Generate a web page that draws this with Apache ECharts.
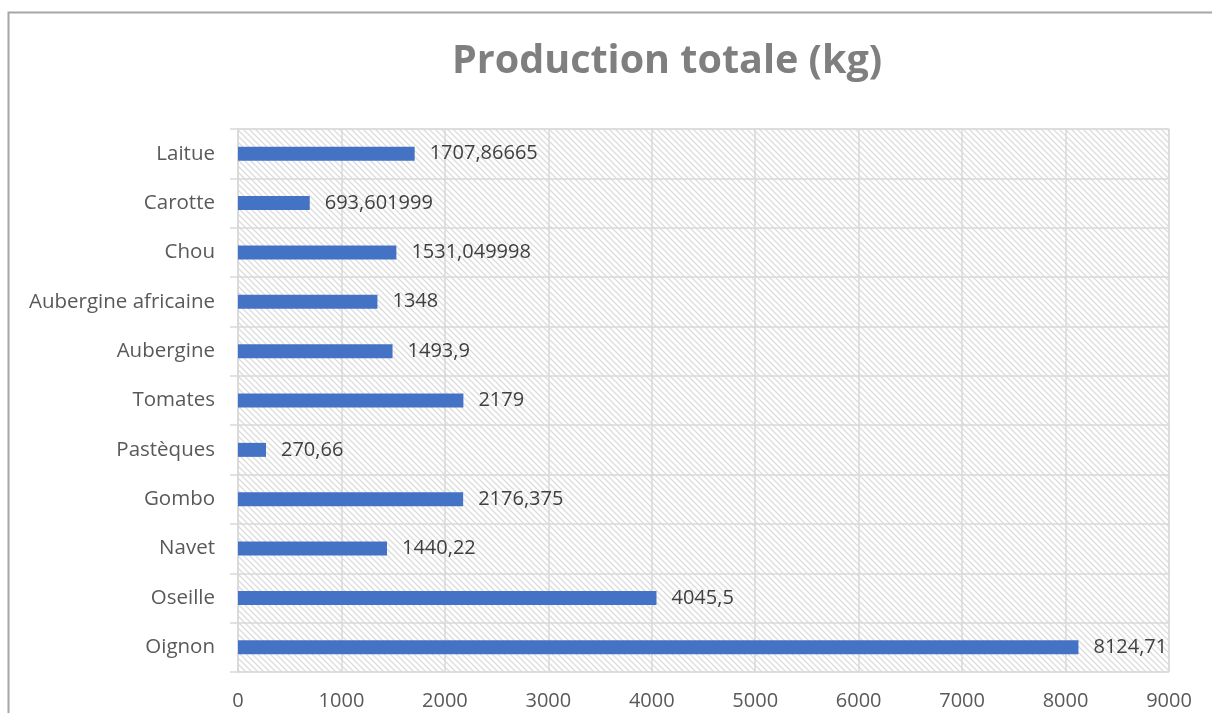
<!DOCTYPE html>
<html>
<head>
<meta charset="utf-8">
<script src="https://cdn.jsdelivr.net/npm/echarts@6/dist/echarts.min.js"></script>
<style>html,body{margin:0;padding:0;background:#fff}#c{width:1212px;height:713px}</style>
</head>
<body>
<div id="c"></div>
<script>
var categories = ['Oignon','Oseille','Navet','Gombo','Pastèques','Tomates','Aubergine','Aubergine africaine','Chou','Carotte','Laitue'];
var values = [8124.71, 4045.5, 1440.22, 2176.375, 270.66, 2179, 1493.9, 1348, 1531.049998, 693.601999, 1707.86665];
var xTicks = [0,1000,2000,3000,4000,5000,6000,7000,8000,9000];
var titleText = 'Production totale (kg)';

var FONT = 'Open Sans';
var TITLE_SIZE = 39.5;

// hatch pattern
var pc = document.createElement('canvas');
pc.width = 6; pc.height = 6;
var g = pc.getContext('2d');
g.fillStyle = '#ffffff'; g.fillRect(0,0,6,6);
g.strokeStyle = '#dcdcdc'; g.lineWidth = 1.3;
g.beginPath();
g.moveTo(-6,-6); g.lineTo(12,12);
g.moveTo(-6,0); g.lineTo(6,12);
g.moveTo(0,-6); g.lineTo(12,6);
g.stroke();

// title centre measured
var mc = document.createElement('canvas').getContext('2d');
mc.font = 'bold ' + TITLE_SIZE + 'px "' + FONT + '"';
var tw = mc.measureText(titleText).width;

var chart = echarts.init(document.getElementById('c'));
chart.setOption({
  animation: false,
  backgroundColor: '#ffffff',
  textStyle: {fontFamily: FONT},
  title: {
    text: titleText, left: Math.round(667 - tw / 2), top: 42, padding: 0,
    textStyle: {fontFamily: FONT, fontWeight: 'bold', fontSize: TITLE_SIZE, color: '#7f7f7f'}
  },
  graphic: [{
    type: 'rect', shape: {x: 8.5, y: 12.5, width: 1300, height: 800},
    style: {fill: 'none', stroke: '#a6a6a6', lineWidth: 2}, silent: true, z: 100
  }],
  grid: {
    left: 238, right: 43, top: 129, bottom: 41,
    show: true, backgroundColor: {image: pc, repeat: 'repeat'},
    borderColor: '#d9d9d9', borderWidth: 1
  },
  xAxis: {
    type: 'value', min: 0, max: 9000, interval: 1000,
    axisLine: {show: false}, axisTick: {show: false},
    axisLabel: {color: '#595959', fontSize: 20, margin: 19, fontFamily: FONT,
      formatter: function(v){ return xTicks.indexOf(v) >= 0 ? String(v) : ''; }},
    splitLine: {show: true, lineStyle: {color: '#d9d9d9', width: 1.5}}
  },
  yAxis: {
    type: 'category', data: categories,
    axisLine: {show: true, lineStyle: {color: '#d9d9d9', width: 1.5}},
    axisTick: {show: true, length: 8, lineStyle: {color: '#d9d9d9', width: 1.5}},
    axisLabel: {color: '#595959', fontSize: 20.5, margin: 23, fontFamily: FONT},
    splitLine: {show: true, lineStyle: {color: '#d9d9d9', width: 1.5}}
  },
  series: [{
    type: 'bar', data: values, barWidth: 14,
    itemStyle: {color: '#4472c4'},
    label: {
      show: true, position: 'right', distance: 15, color: '#404040', fontSize: 20, fontFamily: FONT,
      formatter: function(p){ return String(p.value).replace('.', ','); }
    }
  }]
});
</script>
</body>
</html>
